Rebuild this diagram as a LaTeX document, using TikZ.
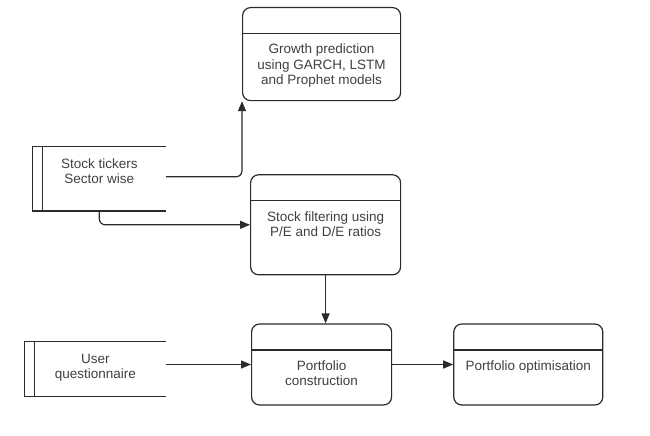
\documentclass[tikz,border=0pt]{standalone}
\usepackage{fontspec}
\setmainfont{Liberation Sans}
\usepackage{tikz}
\usetikzlibrary{positioning,arrows.meta}

\definecolor{linegray}{HTML}{2B2B2B}
\definecolor{textgray}{HTML}{404040}

\tikzstyle{process} = [rectangle, rounded corners=8pt, draw=linegray, line width=1.2pt, fill=white,
    align=center, text=textgray, font=\fontsize{13.5}{15.5}\selectfont,
    inner xsep=4pt, inner ysep=0pt, text height=46pt,
    path picture={
        \draw[linegray, line width=1.2pt]
            ([yshift=-26pt]path picture bounding box.north west) --
            ([yshift=-26pt]path picture bounding box.north east);
    }
]
\tikzstyle{entity} = [rectangle, align=center, text=textgray, font=\fontsize{13.5}{15.5}\selectfont,
    inner xsep=4pt, inner ysep=0pt, text height=37pt,
    append after command={
        \pgfextra{
            \draw[linegray, line width=1.2pt]
                (\tikzlastnode.north east) -| (\tikzlastnode.south west) -- (\tikzlastnode.south east);
            \draw[linegray, line width=1.2pt]
                ([xshift=10pt]\tikzlastnode.north west) -- ([xshift=10pt]\tikzlastnode.south west);
        }
    }
]
\tikzstyle{arrow} = [line width=1.2pt, draw=linegray, -{Triangle[length=10pt,width=8pt]}, rounded corners=6pt]

\begin{document}
\begin{tikzpicture}[x=1pt, y=-1pt, node distance=60pt]
	\useasboundingbox (0,0) rectangle (650,436);

		% Nodes
		\node (grow) [process, minimum width=158pt, text height=77pt, text depth=16pt, anchor=north west] at (242,7) {Growth prediction\\using GARCH, LSTM\\and Prophet models};
		\node (filter) [process, minimum width=150pt, text height=62pt, text depth=38pt, below=73pt of grow, xshift=4pt] {Stock filtering using\\P/E and D/E ratios};

		\node (constr) [process, minimum width=140pt, text height=61.5pt, text depth=19.5pt, below=48pt of filter, xshift=-4pt] {Portfolio\\construction};
		\node (optim) [process, minimum width=149pt, text depth=35pt, right=61pt of constr] {Portfolio optimisation};

		\node (tickers) [entity, minimum width=133pt, text depth=27pt, left=84pt of filter, yshift=46pt] {Stock tickers\\Sector wise};
		\node (quest) [entity, minimum width=141pt, text height=36.5pt, text depth=17.5pt, left=85pt of constr, yshift=-4.5pt] {User\\questionnaire};

		% Arrows
		\draw [arrow] ([yshift=2pt]tickers.east) -| (grow.south west);
		\draw [arrow] (tickers.south) |- (filter.west);
		\draw [arrow] (filter.south) -- (filter.south |- constr.north);
		\draw [arrow] (quest.east |- constr.west) -- (constr.west);
		\draw [arrow] (constr) -- (optim);
	\end{tikzpicture}
\end{document}
